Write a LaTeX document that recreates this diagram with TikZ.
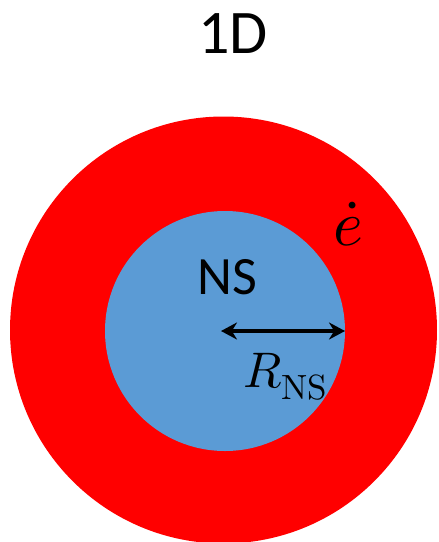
\documentclass[tikz,border=0pt]{standalone}
\usepackage{amsmath}
\usepackage{unicode-math}
\setmainfont{Carlito}
\setmathfont{Latin Modern Math}
\usetikzlibrary{arrows.meta}
\definecolor{shellred}{HTML}{FF0000}
\definecolor{nsblue}{HTML}{5B9BD5}

\begin{document}
\begin{tikzpicture}[x=1pt, y=-1pt]
\useasboundingbox (0,0) rectangle (439,542);
\coordinate (S) at (223.5,330);
\coordinate (O) at (225,331);
\coordinate (E) at (345,331);
\fill[shellred] (S) circle[radius=213.5pt];
\fill[nsblue] (O) circle[radius=120pt];
\draw[line width=4pt, {Stealth[length=16pt,width=17pt]}-{Stealth[length=16pt,width=17pt]}] ([xshift=-4pt]O) -- (E);
\node (title) at (233,34) {\fontsize{62}{70}\selectfont 1D};
\node (ns) at (227,277) {\fontsize{54}{60}\selectfont NS};
\node (edot) at (348,224) {\fontsize{64}{70}\selectfont $\dot{e}$};
\node[anchor=base west, inner sep=0pt] (rns) at (243,387) {\fontsize{50}{60}\selectfont $R_{\symup{NS}}$};
\end{tikzpicture}
\end{document}
